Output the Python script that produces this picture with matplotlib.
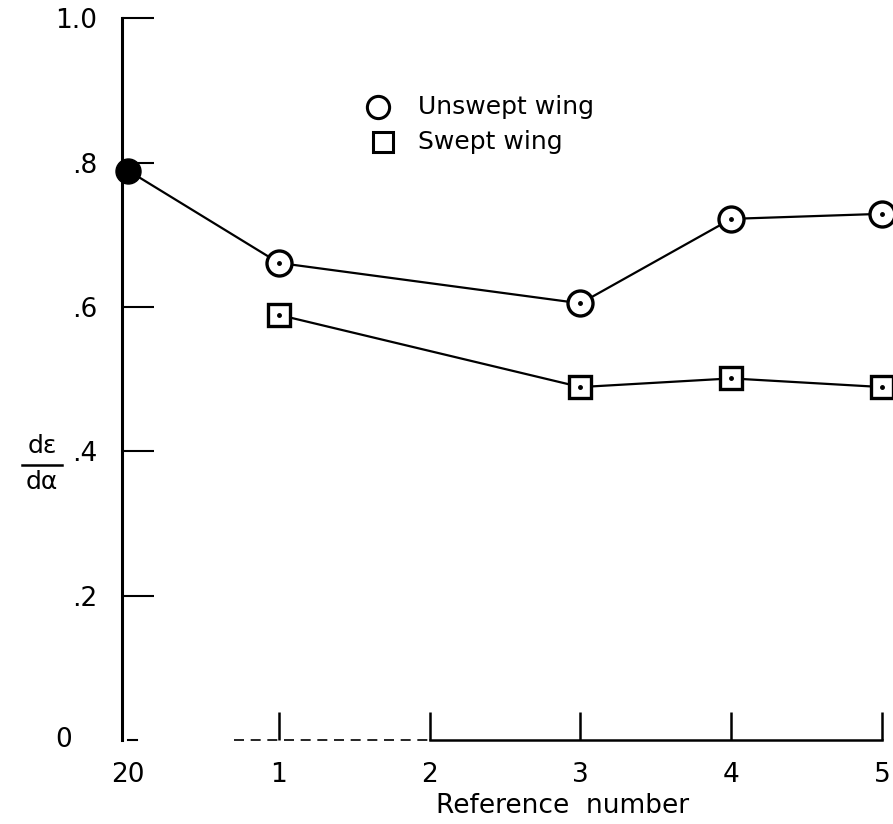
import matplotlib
matplotlib.use("Agg")
import matplotlib.pyplot as plt

# data
tick_labels = ["20", "1", "2", "3", "4", "5"]
ref_pos = [0, 1, 2, 3, 4, 5]

unswept_x = [1, 3, 4, 5]
unswept_y = [0.661, 0.605, 0.722, 0.729]
swept_x = [1, 3, 4, 5]
swept_y = [0.589, 0.489, 0.501, 0.489]
ref20_x = [0]
ref20_y = [0.789]

plt.rcParams['font.family'] = ['DejaVu Sans']

fig = plt.figure(figsize=(8.93, 8.24), dpi=100)
ax = fig.add_axes([0.1366, 0.1019, 0.863, 0.876])
ax.set_xlim(-0.04, 5.07)
ax.set_ylim(0, 1.0)

for s in ["top", "right", "bottom"]:
    ax.spines[s].set_visible(False)
ax.spines["left"].set_linewidth(2.2)
ax.spines["left"].set_bounds(0, 1.0)

# broken baseline like in the scan
ax.plot([0.7, 2.0], [0, 0], color="black", lw=1.2, ls=(0, (6, 4)), clip_on=False)
ax.plot([2.0, 5.0], [0, 0], color="black", lw=1.8, clip_on=False)

ax.set_yticks([0.2, 0.4, 0.6, 0.8, 1.0])
ax.set_yticklabels([".2", ".4", ".6", ".8", "1.0"])
ax.tick_params(axis="y", direction="in", length=23, width=1.5, pad=18, labelsize=19)
ax.text(-0.43, 0.0, "0", fontsize=19, ha="center", va="center")

ax.set_xticks(ref_pos[1:])
ax.set_xticklabels(tick_labels[1:])
ax.tick_params(axis="x", direction="in", length=20, width=1.8, pad=16, labelsize=19)
ax.text(0, -0.03, tick_labels[0], fontsize=19, ha="center", va="top")
ax.plot([0, 0.06], [0.0, 0.0], color="black", lw=1.5, clip_on=False)

ax.set_xlabel("Reference  number", fontsize=19)
ax.xaxis.set_label_coords((563 - 122) / (893 * 0.863), -0.074)

# lines
ax.plot([ref20_x[0], unswept_x[0]], [ref20_y[0], unswept_y[0]], color="black", lw=1.6, zorder=2)
ax.plot(unswept_x, unswept_y, color="black", lw=1.6, marker="o", ms=18,
        mfc="white", mec="black", mew=2.4, zorder=3, clip_on=False)
ax.plot(swept_x, swept_y, color="black", lw=1.6, marker="s", ms=16,
        mfc="white", mec="black", mew=2.4, zorder=3, clip_on=False)
ax.plot(unswept_x + swept_x, unswept_y + swept_y, ls="none", marker="o", ms=2.5,
        color="black", zorder=4, clip_on=False)
ax.plot(ref20_x, ref20_y, ls="none", marker="o", ms=18, color="black",
        zorder=5, clip_on=False)

# legend
ax.plot([1.66], [0.877], marker="o", ms=16, mfc="white", mec="black", mew=2.2, clip_on=False)
ax.plot([1.69], [0.828], marker="s", ms=15, mfc="white", mec="black", mew=2.2, clip_on=False)
ax.text(1.92, 0.877, "Unswept wing", fontsize=18, va="center", ha="left")
ax.text(1.92, 0.828, "Swept wing", fontsize=18, va="center", ha="left")

# y label as a stacked fraction
fig.text(0.047, 0.4357 + 0.008, "d\u03b5", fontsize=18, ha="center", va="bottom")
fig.text(0.047, 0.4357 - 0.006, "d\u03b1", fontsize=18, ha="center", va="top")
fig.add_artist(plt.Line2D([0.025, 0.069], [0.4357, 0.4357], color="black", lw=1.8))

fig.savefig("out.png", dpi=100)
